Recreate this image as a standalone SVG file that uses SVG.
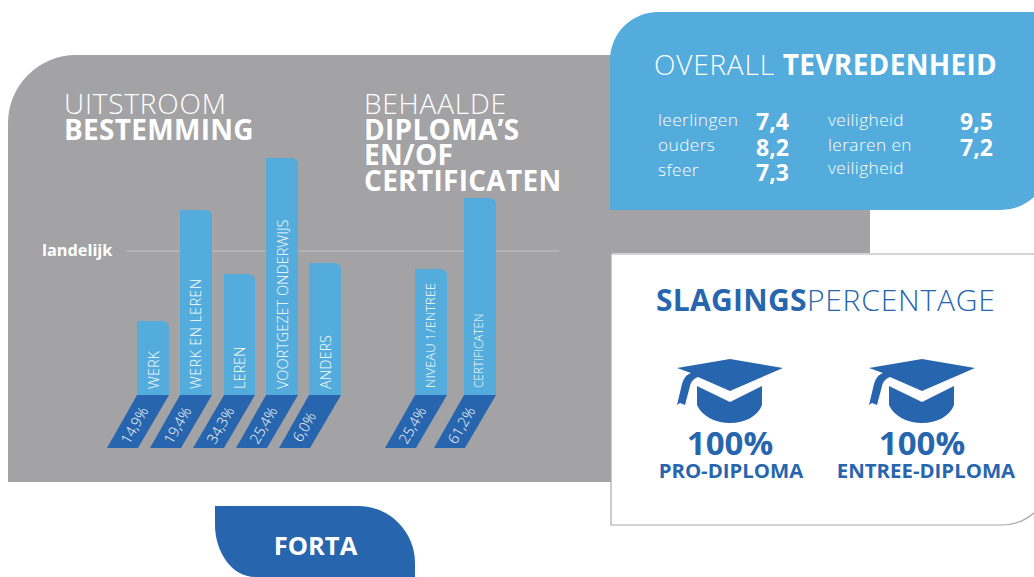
<svg xmlns="http://www.w3.org/2000/svg" width="1034" height="577" viewBox="0 0 1034 577">
<style>
text{font-family:"Open Sans","Noto Sans","Liberation Sans",sans-serif}
.b{font-weight:700;letter-spacing:.3px}
.l{font-weight:300;letter-spacing:.8px}
.h{font-size:28px;fill:#fff}
.bar{fill:#54acdc}
.foot{fill:#2766ae}
.bt{font-size:14.5px;fill:#fff;font-weight:300}
.pt{font-size:14.500px;fill:#fff;font-weight:300}
.sc{font-size:17.3px;fill:#fff;font-weight:300;letter-spacing:.4px}
.num{font-size:23px;fill:#fff;font-weight:700}
.d{fill:#2766ae}
</style>
<defs>
<g id="cap">
<path d="M730 359L783 368L730 391L698 377C693 379 691 382 690 386L685 405L680 403L677 405L682 384C684 378 686 375 691 373L677 368Z"/>
<path d="M697 386L730 402L762 386V405C758 416 745 423 730 423C715 423 702 416 697 405Z"/>
</g>
</defs>
<rect width="1034" height="577" fill="#fff"/>
<path id="backdrop" d="M8 123A68 68 0 0 1 76 55H870V253H612V482H8Z" fill="#a3a3a5"/>
<g id="connectors">
<line x1="126" y1="251" x2="559" y2="251" stroke="#c4c4c6" stroke-width="1.2"/>
</g>
<g id="landelijk"><text x="42" y="256" font-weight="700" font-size="16.300" fill="#fff">landelijk</text></g>
<g id="uitstroom">
<text x="64" y="114" class="h l">UITSTROOM</text>
<text x="64" y="140" class="h b">BESTEMMING</text>
</g>
<g id="behaalde">
<text x="364" y="114" class="h l">BEHAALDE</text>
<text x="364" y="140" class="h b">DIPLOMA’S</text>
<text x="364" y="165" class="h b">EN/OF</text>
<text x="364" y="191" class="h b">CERTIFICATEN</text>
</g>
<g id="bar-werk">
<path class="bar" d="M137 395V321H162Q169 321 169 328V395Z"/><path class="foot" d="M137 395H169L138 448H107Z"/>
<text class="bt" transform="translate(159 389) rotate(-90)">WERK</text>
<text class="pt" transform="translate(129 445) rotate(-60)">14,9%</text>
</g>
<g id="bar-werk-en-leren">
<path class="bar" d="M180 395V210H205Q212 210 212 217V395Z"/><path class="foot" d="M180 395H212L181 448H150Z"/>
<text class="bt" style="letter-spacing:.3px" transform="translate(201 389) rotate(-90)">WERK EN LEREN</text>
<text class="pt" transform="translate(172 445) rotate(-60)">19,4%</text>
</g>
<g id="bar-leren">
<path class="bar" d="M224 395V274H248Q255 274 255 281V395Z"/><path class="foot" d="M224 395H255L224 448H193Z"/>
<text class="bt" transform="translate(245 389) rotate(-90)">LEREN</text>
<text class="pt" transform="translate(215 445) rotate(-60)">34,3%</text>
</g>
<g id="bar-voortgezet">
<path class="bar" d="M266 395V158H291Q298 158 298 165V395Z"/><path class="foot" d="M266 395H298L267 448H236Z"/>
<text class="bt" transform="translate(288 389) rotate(-90)">VOORTGEZET ONDERWIJS</text>
<text class="pt" transform="translate(258 445) rotate(-60)">25,4%</text>
</g>
<g id="bar-anders">
<path class="bar" d="M309 395V263H334Q341 263 341 270V395Z"/><path class="foot" d="M309 395H341L310 448H279Z"/>
<text class="bt" transform="translate(331 389) rotate(-90)">ANDERS</text>
<text class="pt" transform="translate(301 443) rotate(-60)">6,0%</text>
</g>
<g id="bar-niveau">
<path class="bar" d="M415 395V269H440Q447 269 447 276V395Z"/><path class="foot" d="M415 395H447L416 448H385Z"/>
<text class="bt" style="font-size:13px" transform="translate(435 388) rotate(-90)">NIVEAU 1/ENTREE</text>
<text class="pt" transform="translate(407 445) rotate(-60)">25,4%</text>
</g>
<g id="bar-certificaten">
<path class="bar" d="M464 395V198H489Q496 198 496 205V395Z"/><path class="foot" d="M464 395H496L465 448H434Z"/>
<text class="bt" style="font-size:11.800px" transform="translate(483 388) rotate(-90)">CERTIFICATEN</text>
<text class="pt" transform="translate(456 445) rotate(-60)">61,2%</text>
</g>
<g id="tevredenheid">
<path d="M610 210V60A48 48 0 0 1 658 12H1034V197A50 50 0 0 1 1000 210Z" fill="#54acdc"/>
<text x="654" y="75" font-size="28" fill="#fff"><tspan class="l">OVERALL </tspan><tspan class="b">TEVREDENHEID</tspan></text>
<text x="658" y="126" class="sc">leerlingen</text>
<text x="658" y="151" class="sc">ouders</text>
<text x="658" y="176" class="sc">sfeer</text>
<text x="756" y="130" class="num">7,4</text>
<text x="756" y="156" class="num">8,2</text>
<text x="756" y="181" class="num">7,3</text>
<text x="828" y="126" class="sc">veiligheid</text>
<text x="828" y="151" class="sc">leraren en</text>
<text x="828" y="174" class="sc">veiligheid</text>
<text x="960" y="130" class="num">9,5</text>
<text x="960" y="156" class="num">7,2</text>
</g>
<g id="slagingspercentage">
<path d="M611 254H1036V511A50 50 0 0 1 1000 525H611Z" fill="#fff" stroke="#a9a9ab" stroke-width="1.2"/>
<text x="656" y="311" font-size="30" fill="#2766ae"><tspan class="b">SLAGINGS</tspan><tspan class="l">PERCENTAGE</tspan></text>
</g>
<g id="pro-diploma" class="d">
<use href="#cap"/>
<text x="730" y="455" text-anchor="middle" font-weight="700" font-size="33">100%</text>
<text x="731" y="478" text-anchor="middle" font-weight="700" font-size="20.400">PRO-DIPLOMA</text>
</g>
<g id="entree-diploma" class="d">
<use href="#cap" x="192"/>
<text x="922" y="455" text-anchor="middle" font-weight="700" font-size="33">100%</text>
<text x="926" y="478" text-anchor="middle" font-weight="700" font-size="20.400">ENTREE-DIPLOMA</text>
</g>
<g id="forta">
<path d="M215 506H358A57 57 0 0 1 415 563V577H255C232 577 215 552 215 525Z" fill="#2766ae"/>
<text x="315.500" y="555" text-anchor="middle" font-weight="700" font-size="25.500" fill="#fff">FORTA</text>
</g>
</svg>
